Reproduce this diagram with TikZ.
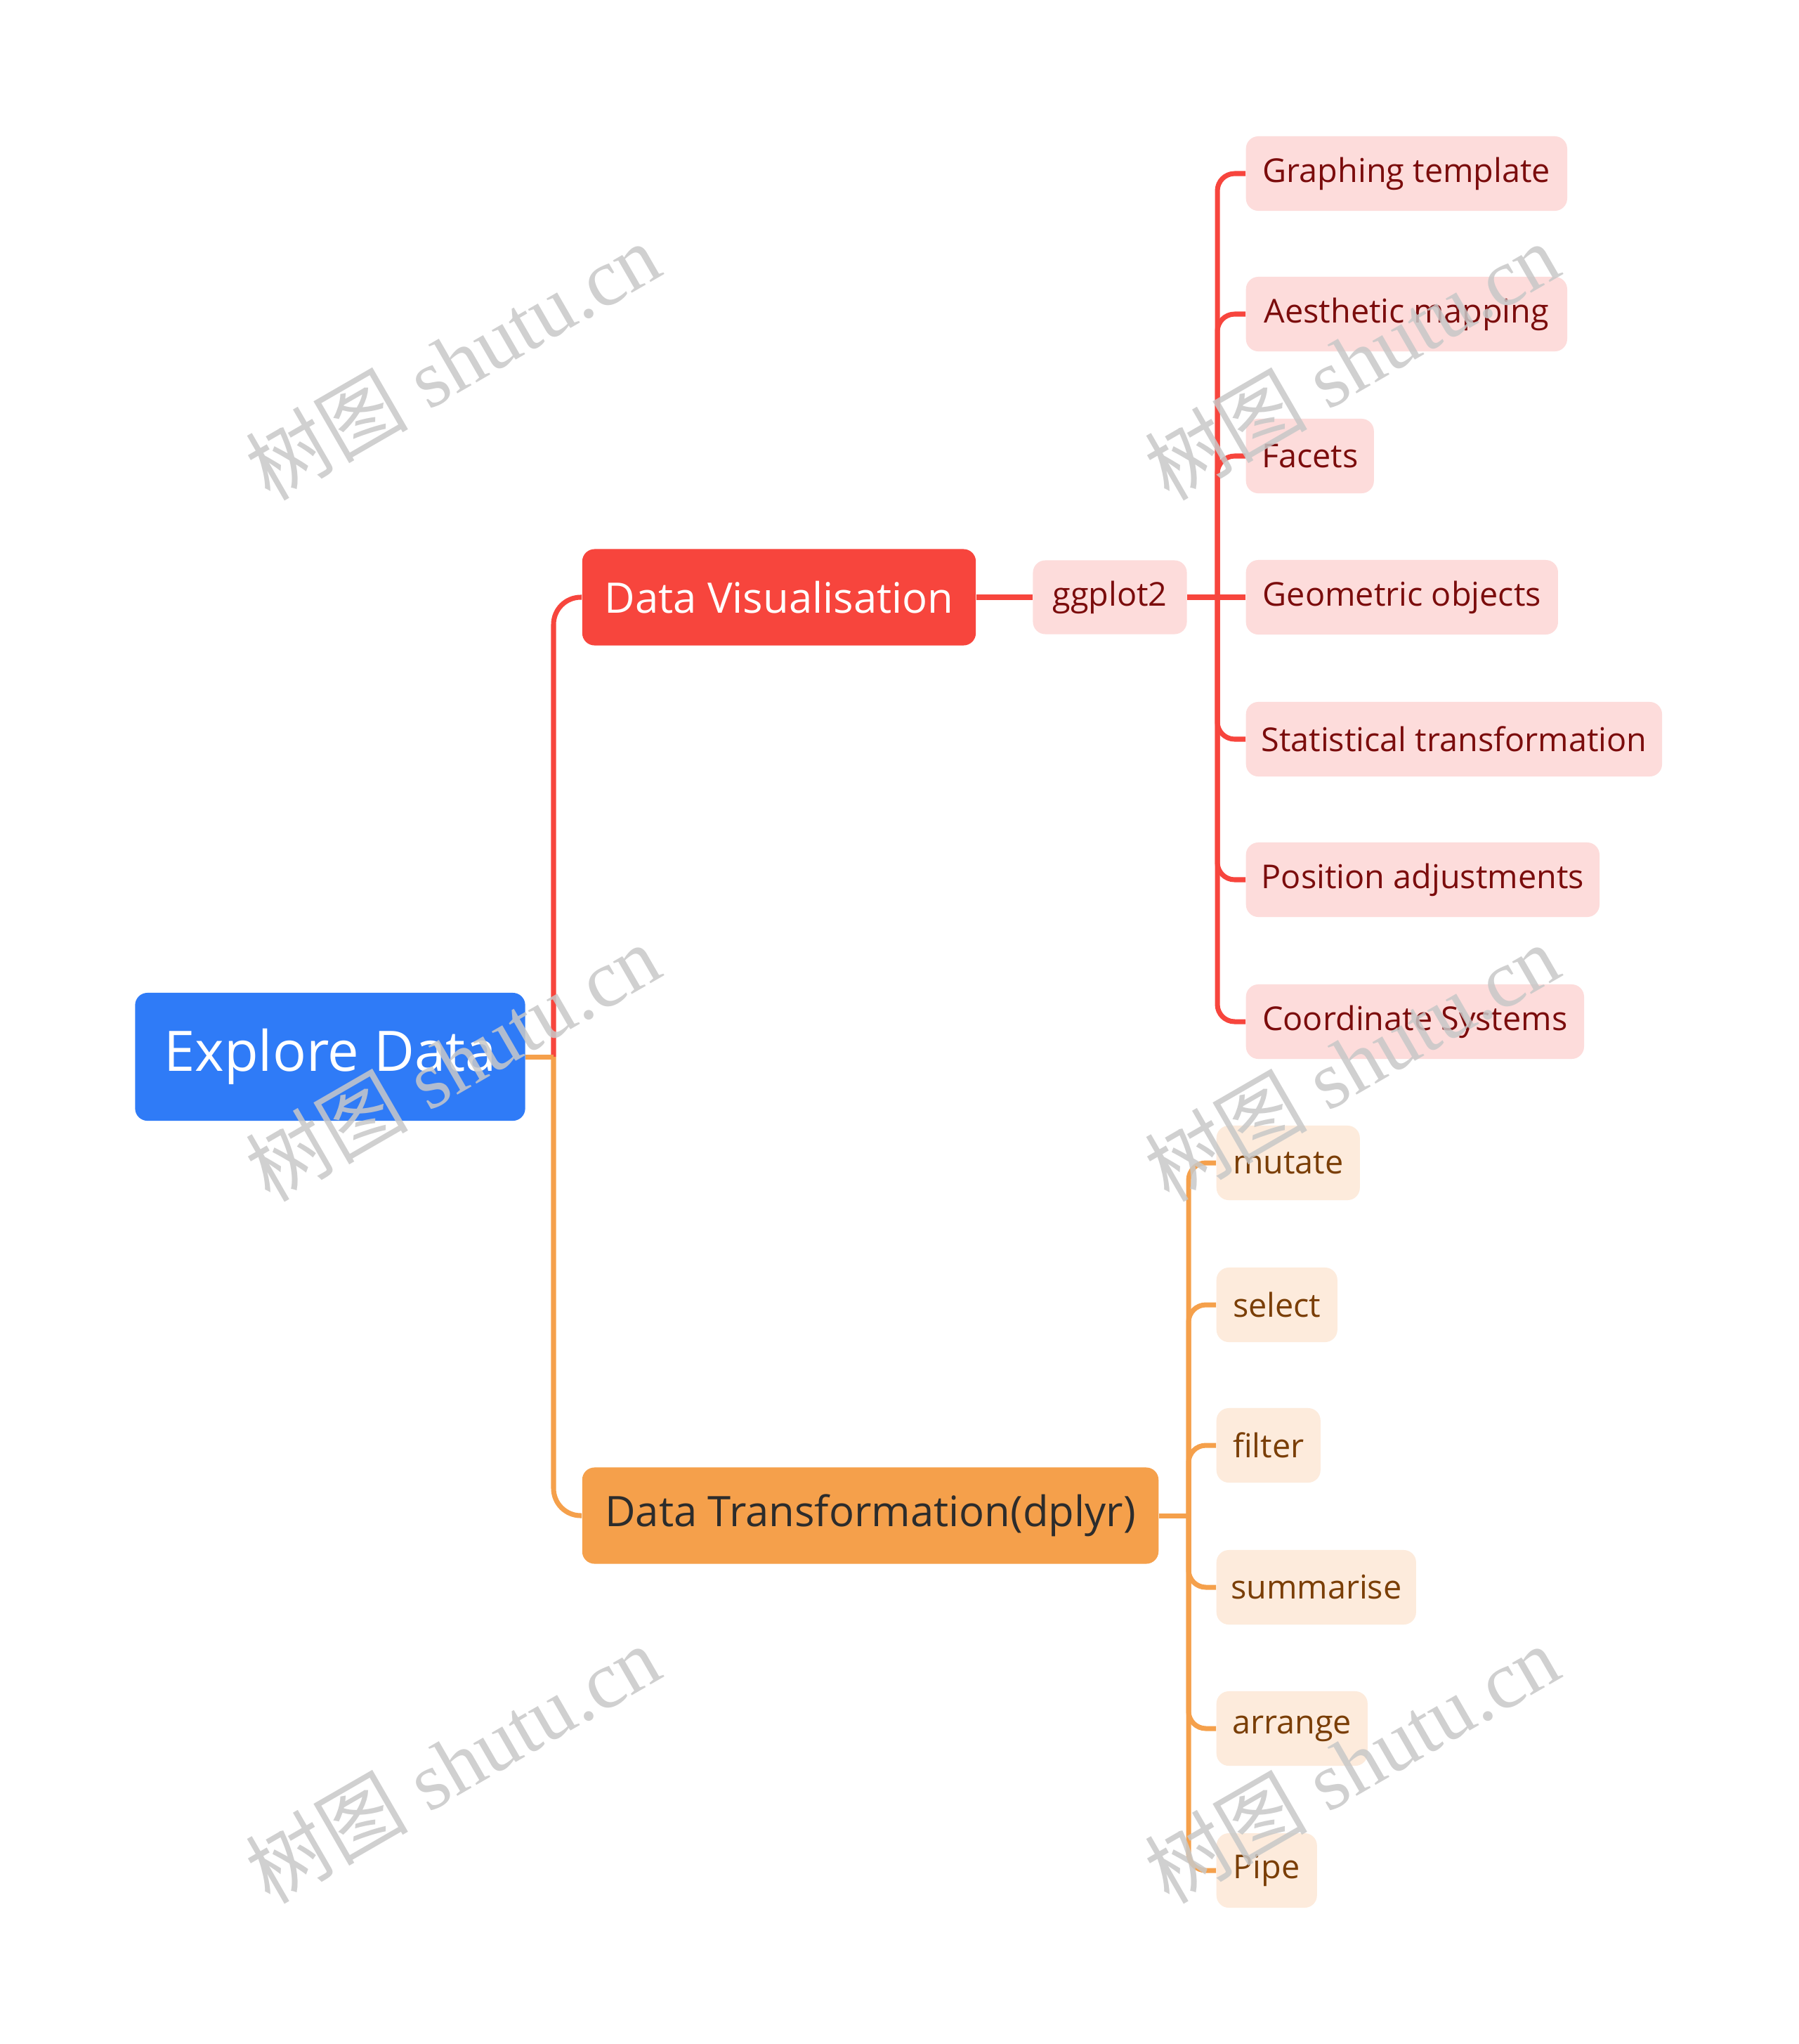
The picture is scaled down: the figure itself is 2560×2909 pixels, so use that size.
\documentclass[tikz,border=0pt]{standalone}
\usepackage{fontspec}
\setmainfont{Open Sans}
\newfontfamily\wmlatin{Liberation Serif}
\newfontfamily\wmcjk{Noto Sans CJK SC}
\definecolor{rootblue}{HTML}{2F7BF7}
\definecolor{redmain}{HTML}{F7453D}
\definecolor{redleaf}{HTML}{FDDCDB}
\definecolor{redtext}{HTML}{7B0C0C}
\definecolor{ormain}{HTML}{F5A04B}
\definecolor{orleaf}{HTML}{FDEBDC}
\definecolor{ortext}{HTML}{7A3E06}
\definecolor{dttext}{HTML}{2C2C2C}
\definecolor{wmgray}{RGB}{200,200,200}
\tikzset{
  box/.style={inner sep=0pt, align=center},
  rootbox/.style={box, fill=rootblue, text=white, rounded corners=5pt, font=\fontsize{22.6}{26}\selectfont},
  mainred/.style={box, fill=redmain, text=white, rounded corners=5pt, font=\fontsize{17}{20}\selectfont},
  mainor/.style={box, fill=ormain, text=dttext, rounded corners=5pt, font=\fontsize{17}{20}\selectfont},
  leafr/.style={box, fill=redleaf, text=redtext, rounded corners=5pt, minimum height=1.06cm, font=\fontsize{13.3}{16}\selectfont},
  leafo/.style={box, fill=orleaf, text=ortext, rounded corners=5pt, minimum height=1.06cm, font=\fontsize{13.3}{16}\selectfont},
  redline/.style={draw=redmain, line width=2pt},
  orline/.style={draw=ormain, line width=2pt},
  wm/.style={text=wmgray, opacity=0.85, rotate=30, font=\wmlatin\fontsize{33}{36}\selectfont}
}
\begin{document}
\begin{tikzpicture}[x=0.01cm,y=-0.01cm]
\useasboundingbox[fill=white] (0,0) rectangle (2560,2909);

% nodes
\node[rootbox, minimum width=5.55cm, minimum height=1.82cm] (root) at (470,1504) {Explore Data};
\node[mainred, minimum width=5.60cm, minimum height=1.37cm] (dv) at (1109,850) {Data Visualisation};
\node[leafr, minimum width=2.19cm, minimum height=1.05cm] (gg) at (1580,850) {ggplot2};
\node[mainor, minimum width=8.20cm, minimum height=1.37cm] (dt) at (1239,2157) {Data Transformation(dplyr)};

\node[leafr, anchor=west, minimum width=4.57cm] (gt) at (1773,247) {Graphing template};
\node[leafr, anchor=west, minimum width=4.57cm] (am) at (1773,447) {Aesthetic mapping};
\node[leafr, anchor=west, minimum width=1.82cm] (fa) at (1773,649) {Facets};
\node[leafr, anchor=west, minimum width=4.44cm] (go) at (1773,850) {Geometric objects};
\node[leafr, anchor=west, minimum width=5.92cm] (st) at (1773,1052) {Statistical transformation};
\node[leafr, anchor=west, minimum width=5.03cm] (pa) at (1773,1252) {Position adjustments};
\node[leafr, anchor=west, minimum width=4.81cm] (cs) at (1773,1454) {Coordinate Systems};

\node[leafo, anchor=west, minimum width=2.04cm] (mu) at (1731,1655) {mutate};
\node[leafo, anchor=west, minimum width=1.72cm] (se) at (1731,1857) {select};
\node[leafo, anchor=west, minimum width=1.48cm] (fi) at (1731,2057) {filter};
\node[leafo, anchor=west, minimum width=2.84cm] (su) at (1731,2259) {summarise};
\node[leafo, anchor=west, minimum width=2.15cm] (ar) at (1731,2460) {arrange};
\node[leafo, anchor=west, minimum width=1.43cm] (pi) at (1731,2662) {Pipe};

% junctions
\coordinate (j0) at (788,1504);
\coordinate (jr) at (1733,850);
\coordinate (jo) at (1692,2157);

% connectors
\draw[redline, rounded corners=11pt] (j0) |- (dv.west);
\draw[orline] (root.east) -- (j0);
\draw[orline, rounded corners=11pt] (j0) |- (dt.west);
\draw[redline] (dv.east) -- (gg.west);
\draw[redline] (gg.east) -- (go.west);
\foreach \n in {gt,am,fa,st,pa,cs} \draw[redline, rounded corners=7pt] (jr) |- (\n.west);
\draw[orline] (dt.east) -- (jo);
\foreach \n in {mu,se,fi,su,ar,pi} \draw[orline, rounded corners=7pt] (jo) |- (\n.west);

% watermarks
\node[wm] (w1) at (644,514) {{\wmcjk 树图} shutu.cn};
\node[wm] (w2) at (1924,514) {{\wmcjk 树图} shutu.cn};
\node[wm] (w3) at (644,1512) {{\wmcjk 树图} shutu.cn};
\node[wm] (w4) at (1924,1512) {{\wmcjk 树图} shutu.cn};
\node[wm] (w5) at (644,2510) {{\wmcjk 树图} shutu.cn};
\node[wm] (w6) at (1924,2510) {{\wmcjk 树图} shutu.cn};
\end{tikzpicture}
\end{document}
